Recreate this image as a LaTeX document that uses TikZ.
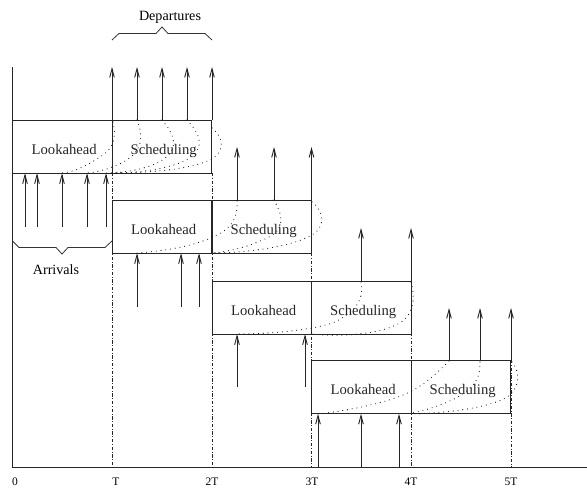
\documentclass[tikz,border=0pt]{standalone}
\usepackage{fontspec}
\setmainfont{Liberation Serif}
\usetikzlibrary{arrows.meta}
\newcommand\boxtxt[1]{\kern3pt\raisebox{-5.6pt}[0pt][0pt]{#1}}
\tikzset{
  x=0.75pt,y=-0.75pt,
  ln/.style={line width=0.7pt,black!85},
  boxn/.style={draw,ln,minimum width=74.6pt,minimum height=39.9pt,inner sep=0pt,outer sep=0pt,font=\fontsize{11}{12}\selectfont},
  arr/.style={ln,-{Straight Barb[length=6.5pt,width=5pt,angle'=30]}},
  guide/.style={line width=0.55pt,black!85,dash pattern=on 2.6pt off 1.2pt on 0.7pt off 1.2pt},
  dots/.style={line width=0.85pt,black!90,line cap=round,dash pattern=on 0pt off 3.6pt},
  brace/.style={line width=0.6pt,black!80},
  lab/.style={inner sep=0pt,font=\fontsize{10.6}{12}\selectfont},
  tick/.style={inner sep=0pt,font=\fontsize{8.6}{10}\selectfont}
}
\begin{document}
\begin{tikzpicture}
\useasboundingbox (0,0) rectangle (587,489);
% guides
\coordinate (o) at (12.5,467);
\coordinate (end) at (587,467);
\coordinate (top) at (12.5,67);
\draw[guide] (112,173) -- (112,467);
\draw[guide] (212,173) -- (212,467);
\draw[guide] (311.5,253) -- (311.5,467);
\draw[guide] (411,333) -- (411,467);
\draw[guide] (511,360) -- (511,467);
% axes
\draw[ln] (top) -- (o) -- (end);
% boxes
\node[boxn,anchor=north west] (L1) at (12.5,120) {\boxtxt{Lookahead}};
\node[boxn,anchor=north west] (S1) at (112,120) {\boxtxt{Scheduling}};
\node[boxn,anchor=north west] (L2) at (112,200) {\boxtxt{Lookahead}};
\node[boxn,anchor=north west] (S2) at (212,200) {\boxtxt{Scheduling}};
\node[boxn,anchor=north west] (L3) at (212,281) {\boxtxt{Lookahead}};
\node[boxn,anchor=north west] (S3) at (311.5,281) {\boxtxt{Scheduling}};
\node[boxn,anchor=north west] (L4) at (311.5,360.5) {\boxtxt{Lookahead}};
\node[boxn,anchor=north west] (S4) at (411,360.5) {\boxtxt{Scheduling}};
% departures
\foreach \x in {112,137,162,187,212}{\coordinate (t) at (\x,67); \draw[arr] (t |- S1.north) -- (t);}
\foreach \x in {237,274,311.5}{\coordinate (t) at (\x,147); \draw[arr] (t |- S2.north) -- (t);}
\foreach \x in {361,411}{\coordinate (t) at (\x,228); \draw[arr] (t |- S3.north) -- (t);}
\foreach \x in {449,480,511}{\coordinate (t) at (\x,308); \draw[arr] (t |- S4.north) -- (t);}
% arrivals
\foreach \x in {25,37,62,87,106}{\coordinate (b) at (\x,227); \draw[arr] (b) -- (b |- L1.south);}
\foreach \x in {137,181,199}{\coordinate (b) at (\x,307); \draw[arr] (b) -- (b |- L2.south);}
\foreach \x in {237,305}{\coordinate (b) at (\x,387); \draw[arr] (b) -- (b |- L3.south);}
\foreach \x in {318,361,399}{\coordinate (b) at (\x,467); \draw[arr] (b) -- (b |- L4.south);}
% mapping curves
\draw[dots] (113,122) .. controls (117,140) and (112,150) .. (100,157) .. controls (90,164) and (75,172) .. (62,173);
\draw[dots] (137,120) .. controls (145,140) and (140,152) .. (125,161) .. controls (115,167) and (100,172) .. (87,173);
\draw[dots] (162,120) .. controls (178,138) and (180,155) .. (150,166) .. controls (135,171) and (120,173) .. (106,173);
\draw[dots] (187,120) .. controls (204,138) and (205,152) .. (180,163) .. controls (160,170) and (135,173) .. (112,173);
\draw[dots] (212,128) .. controls (226,140) and (225,155) .. (205,162) .. controls (180,171) and (140,173) .. (112,173);
\draw[dots] (237,201) .. controls (238,218) and (232,228) .. (215,236) .. controls (195,246) and (165,251) .. (137,253);
\draw[dots] (274,200) .. controls (285,220) and (285,232) .. (260,241) .. controls (245,248) and (225,252) .. (212,253);
\draw[dots] (312,202) .. controls (325,212) and (326,228) .. (310,236) .. controls (290,247) and (245,253) .. (212,253);
\draw[dots] (361,282) .. controls (364,298) and (358,310) .. (335,322) .. controls (315,330) and (270,334) .. (237,334);
\draw[dots] (411,282) .. controls (415,296) and (414,310) .. (405,319) .. controls (392,332) and (350,338) .. (312,334);
\draw[dots] (449,361) .. controls (435,375) and (420,390) .. (395,398) .. controls (375,405) and (345,411) .. (318,414);
\draw[dots] (480,362) .. controls (480,375) and (478,385) .. (458,397) .. controls (445,404) and (425,411) .. (411,413);
\draw[dots] (512,362) .. controls (520,372) and (520,385) .. (510,395) .. controls (495,407) and (450,413) .. (411,414);
% braces
\coordinate (da) at (112,40); \coordinate (db) at (212,40);
\coordinate (aa) at (12.5,241); \coordinate (ab) at (112,241);
\draw[brace] (da) -- (119,33.5) -- (156,33.5) -- (162,27) -- (168,33.5) -- (205,33.5) -- (db);
\draw[brace] (aa) -- (19,247.5) -- (56,247.5) -- (62,254) -- (68,247.5) -- (105,247.5) -- (ab);
% labels
\node[lab] (dep) at (170,17) {Departures};
\node[lab] (arrl) at (56,269.5) {Arrivals};
\node[tick] (t0) at (15,481.5) {0};
\node[tick] (t1) at (116,481.5) {T};
\node[tick] (t2) at (212,481.5) {2T};
\node[tick] (t3) at (312,481.5) {3T};
\node[tick] (t4) at (411,481.5) {4T};
\node[tick] (t5) at (511,481.5) {5T};
\end{tikzpicture}
\end{document}
